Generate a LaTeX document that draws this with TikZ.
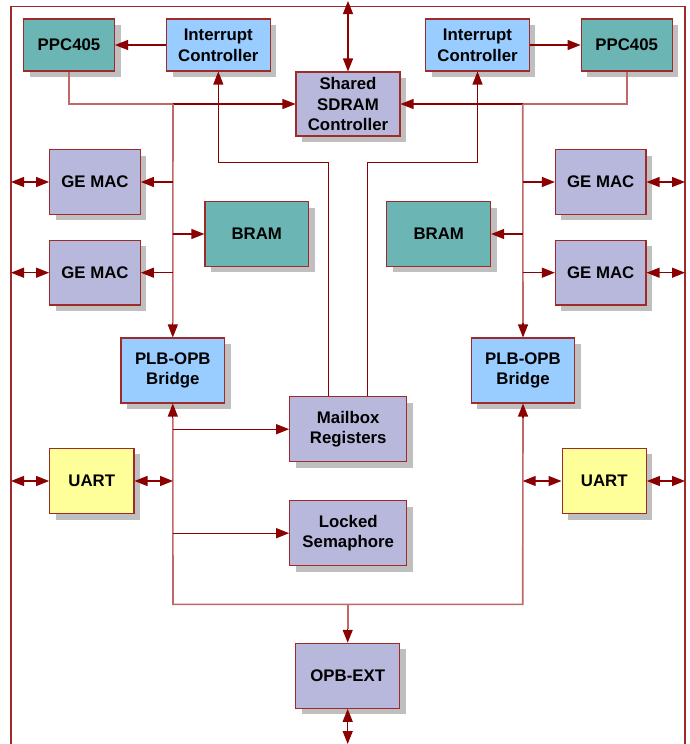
\documentclass[tikz,border=0pt]{standalone}
\usepackage{fontspec}
\setmainfont{Liberation Sans}
\usetikzlibrary{arrows.meta,shadows}
\definecolor{cteal}{HTML}{6BB6B5}
\definecolor{cblue}{HTML}{99CCFF}
\definecolor{clav}{HTML}{B8B8DC}
\definecolor{cyel}{HTML}{FFFF99}
\definecolor{cedge}{HTML}{9E2A2A}
\definecolor{carrow}{HTML}{8B0000}
\definecolor{cbus}{HTML}{C06868}
\tikzset{
  box/.style={draw=cedge, line width=1.1pt, inner sep=0pt, align=center,
    font=\bfseries\fontsize{16.8}{20.7}\selectfont,
    drop shadow={shadow xshift=6pt, shadow yshift=-6pt, fill=black!25, opacity=1}},
  tealb/.style={box, fill=cteal},
  blueb/.style={box, fill=cblue},
  lavb/.style={box, fill=clav},
  yelb/.style={box, fill=cyel},
  tip/.style={-{Triangle[length=13pt,width=10pt]}},
  dtip/.style={{Triangle[length=13pt,width=10pt]}-{Triangle[length=13pt,width=10pt]}},
  link/.style={draw=carrow, line width=1.2pt},
  bus/.style={draw=cbus, line width=1.6pt},
  frame/.style={draw=cedge, line width=1.1pt},
}
\begin{document}
\begin{tikzpicture}[x=1pt,y=-1pt]
\useasboundingbox (0,0) rectangle (690,744);
% frame
\coordinate (fL) at (11,6.3);
\coordinate (fR) at (685,6.3);
\draw[frame] (11,744) -- (fL) -- (fR) -- (685,744);
% nodes
\node[tealb, minimum width=91pt, minimum height=52pt] (ppcL) at (69,45) {PPC405};
\node[blueb, minimum width=103.5pt, minimum height=52pt] (icL) at (218.3,45) {Interrupt\\Controller};
\node[lavb, minimum width=104pt, minimum height=64pt] (sdram) at (348,104) {Shared\\SDRAM\\Controller};
\node[blueb, minimum width=103.5pt, minimum height=52pt] (icR) at (477.5,45) {Interrupt\\Controller};
\node[tealb, minimum width=91pt, minimum height=52pt] (ppcR) at (626.7,45) {PPC405};
\node[lavb, minimum width=90.6pt, minimum height=64.5pt] (gmL1) at (95,182) {GE MAC};
\node[lavb, minimum width=90.6pt, minimum height=64.5pt] (gmL2) at (95,272.7) {GE MAC};
\node[lavb, minimum width=90.6pt, minimum height=64.5pt] (gmR1) at (600.7,182) {GE MAC};
\node[lavb, minimum width=90.6pt, minimum height=64.5pt] (gmR2) at (600.7,272.7) {GE MAC};
\node[tealb, minimum width=103.7pt, minimum height=64.3pt] (bramL) at (256.8,234) {BRAM};
\node[tealb, minimum width=103.7pt, minimum height=64.3pt] (bramR) at (438.7,234) {BRAM};
\node[blueb, minimum width=103.7pt, minimum height=65pt] (plbL) at (172.8,370.5) {PLB-OPB\\Bridge};
\node[blueb, minimum width=103.7pt, minimum height=65pt] (plbR) at (523,370.5) {PLB-OPB\\Bridge};
\node[lavb, minimum width=117pt, minimum height=65pt] (mbox) at (348.2,429.2) {Mailbox\\Registers};
\node[lavb, minimum width=117pt, minimum height=65pt] (sema) at (348.2,533.2) {Locked\\Semaphore};
\node[yelb, minimum width=84.3pt, minimum height=65.4pt] (uartL) at (91.8,481) {UART};
\node[yelb, minimum width=84.3pt, minimum height=65.4pt] (uartR) at (604.2,481) {UART};
\node[lavb, minimum width=104pt, minimum height=65pt] (opbext) at (347.7,675.8) {OPB-EXT};
% coordinates
\coordinate (top) at (348,1);
\coordinate (bot) at (347.7,744);
\coordinate (bL) at (173,104);
\coordinate (bR) at (522.7,104);
\coordinate (pbL) at (173,604.3);
\coordinate (pbR) at (522.7,604.3);
\coordinate (mb1) at (328.7,162.7);
\coordinate (mb2) at (367.3,162.7);
% PPC buses
\draw[bus] (ppcL.south) -- (ppcL.south |- sdram.west) -- (bL);
\draw[bus] (ppcR.south) -- (ppcR.south |- sdram.east) -- (bR);
\draw[link, tip] (bL) -- (sdram.west);
\draw[link, tip] (bR) -- (sdram.east);
\draw[bus] (bL) -- ([yshift=14pt]plbL.north);
\draw[bus] (bR) -- ([yshift=14pt]plbR.north);
\draw[link, tip] ([yshift=14pt]plbL.north) -- (plbL.north);
\draw[link, tip] ([yshift=14pt]plbR.north) -- (plbR.north);
% interrupt controllers
\draw[link, tip] (icL.west) -- (ppcL.east);
\draw[link, tip] (icR.east) -- (ppcR.west);
\draw[link, tip] (mbox.north -| mb1) -- (mb1) -- (mb1 -| icL.south) -- (icL.south);
\draw[link, tip] (mbox.north -| mb2) -- (mb2) -- (mb2 -| icR.south) -- (icR.south);
% SDRAM external
\draw[link, dtip] (top) -- (sdram.north);
% PLB side devices
\draw[link, tip] (bL |- gmL1.east) -- (gmL1.east);
\draw[link, tip] (bL |- gmL2.east) -- (gmL2.east);
\draw[link, tip] (bL |- bramL.west) -- (bramL.west);
\draw[link, tip] (bR |- gmR1.west) -- (gmR1.west);
\draw[link, tip] (bR |- gmR2.west) -- (gmR2.west);
\draw[link, tip] (bR |- bramR.east) -- (bramR.east);
\draw[link, dtip] (fL |- gmL1.west) -- (gmL1.west);
\draw[link, dtip] (fL |- gmL2.west) -- (gmL2.west);
\draw[link, dtip] (gmR1.east) -- (fR |- gmR1.east);
\draw[link, dtip] (gmR2.east) -- (fR |- gmR2.east);
% OPB bus
\draw[bus] ([yshift=-14pt]plbL.south) -- (pbL) -- (pbR) -- ([yshift=-14pt]plbR.south);
\draw[link, tip] ([yshift=-14pt]plbL.south) -- (plbL.south);
\draw[link, tip] ([yshift=-14pt]plbR.south) -- (plbR.south);
\draw[link, tip] (pbL |- mbox.west) -- (mbox.west);
\draw[link, tip] (pbL |- sema.west) -- (sema.west);
\draw[link, dtip] (uartL.east) -- (pbL |- uartL.east);
\draw[link, dtip] (fL |- uartL.west) -- (uartL.west);
\draw[link, dtip] (pbR |- uartR.west) -- (uartR.west);
\draw[link, dtip] (uartR.east) -- (fR |- uartR.east);
\draw[bus] (opbext.north |- pbL) -- ([yshift=14pt]opbext.north);
\draw[link, tip] ([yshift=14pt]opbext.north) -- (opbext.north);
\draw[link, dtip] (opbext.south) -- (bot);
\end{tikzpicture}
\end{document}
